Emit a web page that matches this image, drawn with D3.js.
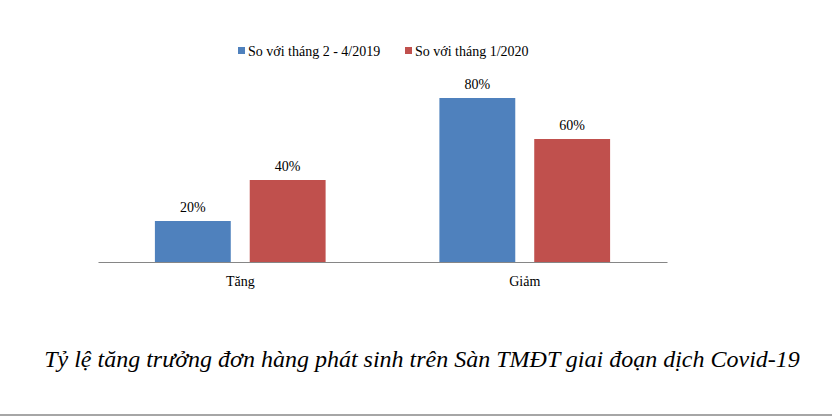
<!DOCTYPE html>
<html>
<head>
  <meta charset="utf-8">
  <script src="https://d3js.org/d3.v7.min.js"></script>
  <style>
    body { margin: 0; background: #fff; }
    svg { display: block; }
    .lbl { font-family: "Liberation Serif", "Times New Roman", serif; font-size: 14px; fill: #000; }
    .caption { font-family: "Liberation Serif", "Times New Roman", serif; font-style: italic; font-size: 24px; fill: #000; }
  </style>
</head>
<body>
  <svg id="chart" width="832" height="417"></svg>
  <script>
    // data
    const categories = ["Tăng", "Giảm"];
    const seriesNames = ["So với tháng 2 - 4/2019", "So với tháng 1/2020"];
    const seriesA = [20, 80];
    const seriesB = [40, 60];
    const colors = ["#4F81BD", "#C0504D"];
    const caption = "Tỷ lệ tăng trưởng đơn hàng phát sinh trên Sàn TMĐT giai đoạn dịch Covid-19";

    const data = categories.map((c, i) => ({ cat: c, values: [seriesA[i], seriesB[i]] }));

    const svg = d3.select("#chart");

    const x0 = d3.scaleBand().domain(categories).range([98, 667]).padding(0);
    const x1 = d3.scaleBand().domain(d3.range(seriesNames.length))
      .range([0, x0.bandwidth()]).paddingInner(0.2).paddingOuter(0.6);
    const y = d3.scaleLinear().domain([0, 100]).range([262, 57]);

    // bars
    const groups = svg.selectAll(".grp")
      .data(data)
      .enter().append("g")
      .attr("class", "grp")
      .attr("transform", d => `translate(${x0(d.cat)},0)`);

    groups.selectAll("rect")
      .data(d => d.values.map((v, i) => ({ v, i })))
      .enter().append("rect")
      .attr("x", d => x1(d.i))
      .attr("y", d => y(d.v))
      .attr("width", x1.bandwidth())
      .attr("height", d => y(0) - y(d.v))
      .attr("fill", d => colors[d.i]);

    groups.selectAll("text")
      .data(d => d.values.map((v, i) => ({ v, i })))
      .enter().append("text")
      .attr("class", "lbl")
      .attr("x", d => x1(d.i) + x1.bandwidth() / 2)
      .attr("y", d => y(d.v) - 9)
      .attr("text-anchor", "middle")
      .text(d => d.v + "%");

    // x axis
    const xAxis = svg.append("g")
      .attr("transform", `translate(0,${y(0)})`)
      .call(d3.axisBottom(x0).tickSize(0).tickPadding(14));
    xAxis.select(".domain").attr("stroke", "#868686").attr("stroke-width", 1.2);
    xAxis.selectAll("text").attr("class", "lbl").attr("font-family", null).attr("font-size", null);

    // legend
    const legX = [238, 405];
    const legend = svg.selectAll(".leg")
      .data(seriesNames)
      .enter().append("g")
      .attr("transform", (d, i) => `translate(${legX[i]},47)`);
    legend.append("rect").attr("width", 7).attr("height", 7).attr("fill", (d, i) => colors[i]);
    legend.append("text").attr("class", "lbl").attr("x", 10).attr("y", 9).text(d => d);

    // caption
    svg.append("text")
      .attr("class", "caption")
      .attr("x", 422)
      .attr("y", 367)
      .attr("text-anchor", "middle")
      .text(caption);

    // bottom rule
    svg.append("line")
      .attr("x1", 0).attr("x2", 832)
      .attr("y1", 415).attr("y2", 415)
      .attr("stroke", "#a6a6a6").attr("stroke-width", 2);
  </script>
</body>
</html>
